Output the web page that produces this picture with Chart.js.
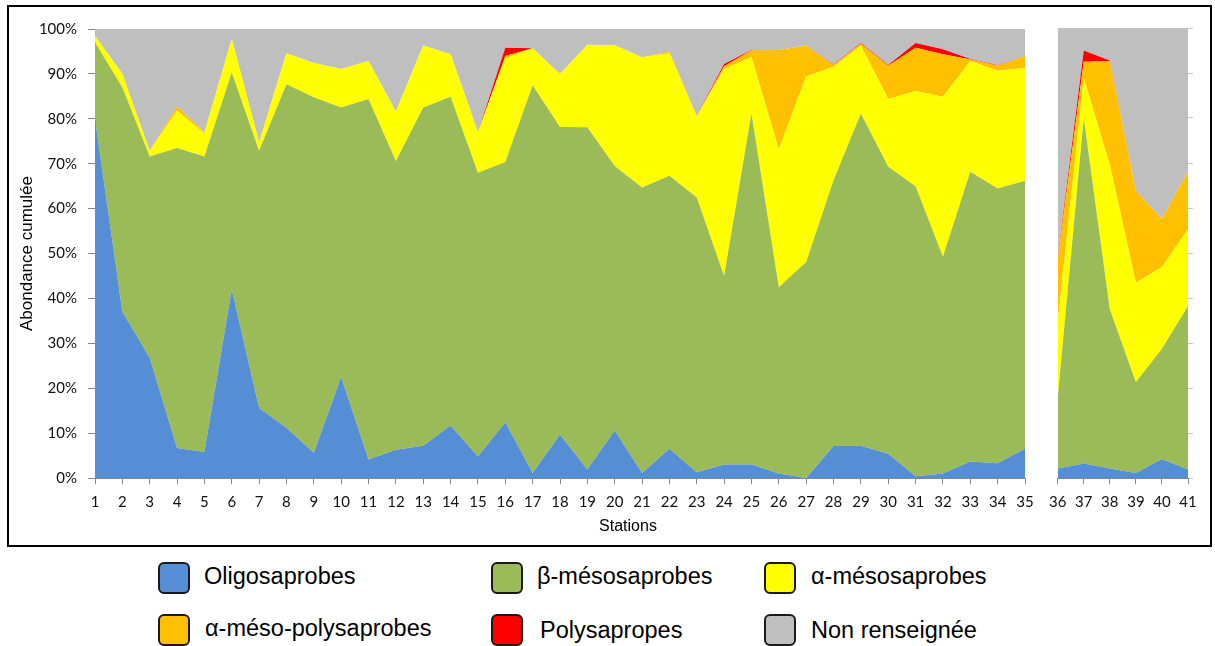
<!DOCTYPE html>
<html>
<head>
<meta charset="utf-8">
<script src="https://cdn.jsdelivr.net/npm/chart.js@4/dist/chart.umd.min.js"></script>
<style>
  body { margin: 0; background: #fff; width: 1215px; height: 646px; position: relative; overflow: hidden; }
  #frame { position: absolute; left: 7px; top: 5px; width: 1201px; height: 538px; border: 2px solid #000; }
  #c1 { position: absolute; left: 0; top: 0; }
  #c2 { position: absolute; left: 1040px; top: 0; }
  #xtitle { position: absolute; left: 528px; width: 200px; top: 517px; text-align: center;
            font: 16px "Liberation Sans", Arial, sans-serif; color: #000; }
  .leg { position: absolute; font: 23.5px "Liberation Sans", Arial, sans-serif; color: #000; line-height: 30px; }
  .sq { position: absolute; width: 28px; height: 28px; border: 2px solid #1a1a1a; border-radius: 6px; }
</style>
</head>
<body>
<div id="frame"></div>
<canvas id="c1" width="1045" height="546"></canvas>
<canvas id="c2" width="175" height="546"></canvas>
<div id="xtitle">Stations</div>

<div class="sq" style="left:158px;top:562px;background:#558ED5"></div>
<div class="leg" style="left:204px;top:561px">Oligosaprobes</div>
<div class="sq" style="left:491px;top:562px;background:#9BBB59"></div>
<div class="leg" style="left:537px;top:561px">β-mésosaprobes</div>
<div class="sq" style="left:764px;top:562px;background:#FFFF00"></div>
<div class="leg" style="left:811px;top:561px">α-mésosaprobes</div>

<div class="sq" style="left:158px;top:614px;background:#FFC000"></div>
<div class="leg" style="left:205px;top:613px">α-méso-polysaprobes</div>
<div class="sq" style="left:491px;top:614px;background:#FF0000"></div>
<div class="leg" style="left:540px;top:615px">Polysapropes</div>
<div class="sq" style="left:764px;top:614px;background:#BFBFBF"></div>
<div class="leg" style="left:811px;top:615px">Non renseignée</div>

<script>
// stations 1 a 35 (premier panneau)
const stations1 = ['1','2','3','4','5','6','7','8','9','10','11','12','13','14','15','16','17','18',
    '19','20','21','22','23','24','25','26','27','28','29','30','31','32','33','34','35'];
const oligo1 = [80, 37, 26.8, 6.7, 5.8, 42, 15.6, 11.2, 5.6, 22.5, 4.1, 6.3, 7.2, 11.7, 4.8, 12.4, 1.1, 9.7,
    1.9, 10.6, 1.1, 6.5, 1.3, 3, 3, 1, 0, 7.1, 7.2, 5.4, 0.4, 1, 3.7, 3.3, 6.5];
const beta1 = [17, 50, 44.8, 66.8, 65.8, 48.3, 57.3, 76.5, 79.2, 60, 80.3, 64.3, 75.3, 73.2, 63.2, 58, 86.4, 68.5,
    76.2, 58.9, 63.6, 60.8, 61.2, 42, 78.2, 41.5, 48.1, 59.2, 74, 63.9, 64.6, 48.3, 64.5, 61.2, 59.7];
const alpha1 = [1.5, 3, 1.3, 8.3, 5.1, 7.5, 1.8, 6.9, 7.6, 8.6, 8.5, 11, 13.8, 9.5, 9, 23.1, 8.2, 11.8,
    18.4, 26.9, 29, 27.3, 18, 46.1, 12.5, 30.7, 41.3, 25.3, 15.1, 15.1, 21.2, 35.6, 24.7, 26.2, 25.1];
const alphaPoly1 = [0, 0, 0, 0.9, 0.3, 0, 0, 0, 0, 0, 0, 0, 0, 0, 0, 0.5, 0, 0,
    0, 0, 0, 0.4, 0.1, 0.6, 1.5, 22.1, 6.9, 0.4, 0.4, 7.4, 9.6, 9.5, 0.3, 1.1, 2.7];
const poly1 = [0, 0, 0, 0, 0, 0, 0, 0, 0, 0, 0, 0, 0, 0, 0, 1.8, 0, 0,
    0, 0, 0, 0, 0.1, 0.5, 0.1, 0, 0, 0.1, 0.2, 0.2, 1.1, 1.1, 0.1, 0.1, 0];
const nonRens1 = [1.5, 10, 27.1, 17.3, 23, 2.2, 25.3, 5.4, 7.6, 8.9, 7.1, 18.4, 3.7, 5.6, 23, 4.3, 4.3, 10,
    3.5, 3.6, 6.3, 5, 19.3, 7.8, 4.7, 4.7, 3.7, 7.9, 3.1, 8, 3.1, 4.5, 6.7, 8.1, 6];

// stations 36 a 41 (second panneau)
const stations2 = ['36','37','38','39','40','41'];
const oligo2 = [2.1, 3.2, 2.1, 1.1, 4.2, 1.9];
const beta2 = [15.6, 76.8, 35.4, 20.2, 24.5, 36.3];
const alpha2 = [17, 8.9, 32.1, 22.1, 18.2, 17.1];
const alphaPoly2 = [13.7, 3.6, 23, 20.4, 10.7, 12.8];
const poly2 = [0.4, 2.5, 0.2, 0, 0, 0];
const nonRens2 = [51.2, 5, 7.2, 36.2, 42.4, 31.9];

const yTicks = [0, 10, 20, 30, 40, 50, 60, 70, 80, 90, 100];

const seriesNames = ['Oligosaprobes', 'β-mésosaprobes', 'α-mésosaprobes', 'α-méso-polysaprobes', 'Polysapropes', 'Non renseignée'];
const seriesColors = ['#558ED5', '#9BBB59', '#FFFF00', '#FFC000', '#FF0000', '#BFBFBF'];

const axisGrey = '#868686';
const tickFont = { family: 'Lato', size: 15 };

function makeDatasets(lists) {
    return lists.map((d, i) => ({
        label: seriesNames[i],
        data: d,
        backgroundColor: seriesColors[i],
        borderColor: seriesColors[i],
        borderWidth: 0,
        pointRadius: 0,
        tension: 0,
        fill: i === 0 ? 'origin' : '-1'
    }));
}

function xAxis() {
    return {
        offset: false,
        grid: { display: true, drawOnChartArea: false, drawTicks: true, tickLength: 6, color: axisGrey },
        border: { display: true, color: axisGrey, width: 1 },
        ticks: { font: tickFont, color: '#111', padding: 9, autoSkip: false, maxRotation: 0 },
        afterFit: s => { s.height = 68; }
    };
}

// Premier graphique
new Chart(document.getElementById('c1'), {
    type: 'line',
    data: {
        labels: stations1,
        datasets: makeDatasets([oligo1, beta1, alpha1, alphaPoly1, poly1, nonRens1])
    },
    options: {
        responsive: false,
        animation: false,
        layout: { padding: { left: 0, right: 20, top: 29, bottom: 0 } },
        plugins: { legend: { display: false }, tooltip: { enabled: false } },
        scales: {
            x: xAxis(),
            y: {
                stacked: true,
                min: 0,
                max: 100,
                afterBuildTicks: s => { s.ticks = yTicks.map(v => ({ value: v })); },
                grid: { display: true, drawOnChartArea: false, drawTicks: true, tickLength: 7, color: axisGrey },
                border: { display: true, color: axisGrey, width: 1 },
                ticks: { font: tickFont, color: '#111', padding: 11, callback: v => v + '%' },
                title: {
                    display: true,
                    text: 'Abondance cumulée',
                    font: { family: 'Liberation Sans', size: 17 },
                    color: '#000',
                    padding: { top: 17, bottom: 0 }
                },
                afterFit: s => { s.width = 95; }
            }
        }
    }
});

// Second graphique
new Chart(document.getElementById('c2'), {
    type: 'line',
    data: {
        labels: stations2,
        datasets: makeDatasets([oligo2, beta2, alpha2, alphaPoly2, poly2, nonRens2])
    },
    options: {
        responsive: false,
        animation: false,
        layout: { padding: { left: 14, right: 21, top: 28, bottom: 0 } },
        plugins: { legend: { display: false }, tooltip: { enabled: false } },
        scales: {
            x: xAxis(),
            y: {
                position: 'right',
                stacked: true,
                min: 0,
                max: 100,
                afterBuildTicks: s => { s.ticks = yTicks.map(v => ({ value: v })); },
                grid: { display: true, drawOnChartArea: false, drawTicks: true, tickLength: 5, color: '#c8c8c8' },
                border: { display: false },
                ticks: { display: false },
                afterFit: s => { s.width = 6; }
            }
        }
    }
});
</script>
</body>
</html>
